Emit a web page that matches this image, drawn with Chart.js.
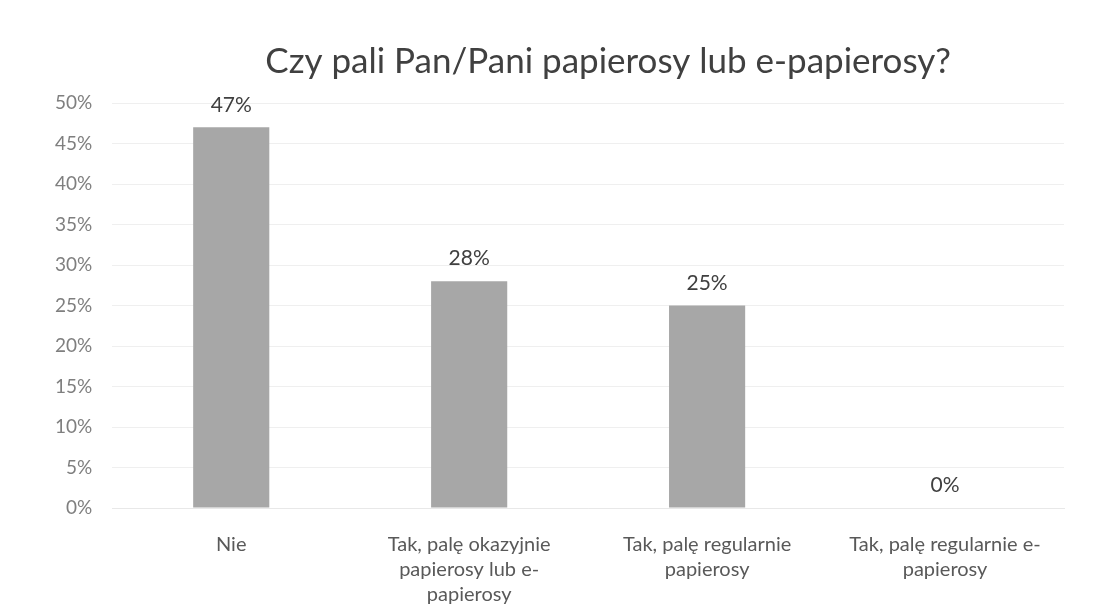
<!DOCTYPE html>
<html>
<head>
<meta charset="utf-8">
<script src="https://cdn.jsdelivr.net/npm/chart.js@4"></script>
<style>
  html, body { margin: 0; padding: 0; background: #fff; }
  #wrap { width: 1097px; height: 611px; }
</style>
</head>
<body>
<div id="wrap"><canvas id="barChart" width="1097" height="611"></canvas></div>
<script>
// dane z wykresu
const categories = [
  'Nie',
  ['Tak, palę okazyjnie', 'papierosy lub e-', 'papierosy'],
  ['Tak, palę regularnie', 'papierosy'],
  ['Tak, palę regularnie e-', 'papierosy']
];
const values = [47, 28, 25, 0];
const titleText = 'Czy pali Pan/Pani papierosy lub e-papierosy?';

const FONT = 'Lato, "Open Sans", sans-serif';

// tytuł nad obszarem wykresu + etykiety nad słupkami
const labelsPlugin = {
  id: 'labelsPlugin',
  afterDatasetsDraw(chart) {
    const ctx = chart.ctx;
    const area = chart.chartArea;
    ctx.save();
    ctx.fillStyle = '#404040';
    ctx.font = '35px ' + FONT;
    ctx.textAlign = 'center';
    ctx.textBaseline = 'middle';
    ctx.fillText(titleText, (area.left + area.right) / 2 + 20, 62);

    ctx.font = '21px ' + FONT;
    ctx.fillStyle = '#404040';
    ctx.textBaseline = 'bottom';
    chart.getDatasetMeta(0).data.forEach((bar, i) => {
      ctx.fillText(values[i] + '%', bar.x, bar.y - 12);
    });
    ctx.restore();
  }
};

const ctxt = document.getElementById('barChart').getContext('2d');
new Chart(ctxt, {
  type: 'bar',
  data: {
    labels: categories,
    datasets: [{
      data: values,
      backgroundColor: '#a7a7a7',
      borderWidth: 0,
      barPercentage: 0.64,
      categoryPercentage: 0.5
    }]
  },
  options: {
    responsive: false,
    animation: false,
    layout: { padding: { top: 103, left: 35, right: 33, bottom: 0 } },
    plugins: { legend: { display: false }, tooltip: { enabled: false } },
    scales: {
      y: {
        min: 0,
        max: 50,
        ticks: {
          stepSize: 5,
          callback: v => v + '%',
          color: '#7f7f7f',
          font: { family: FONT, size: 19 },
          padding: 20
        },
        grid: { color: '#efefef', drawTicks: false },
        border: { display: false }
      },
      x: {
        afterFit: scale => { scale.height = 103; },
        ticks: {
          color: '#595959',
          font: { family: FONT, size: 20, lineHeight: 1.25 },
          padding: 24,
          maxRotation: 0
        },
        grid: { display: false, drawTicks: false },
        border: { color: '#e8e8e8' }
      }
    }
  },
  plugins: [labelsPlugin]
});
</script>
</body>
</html>
